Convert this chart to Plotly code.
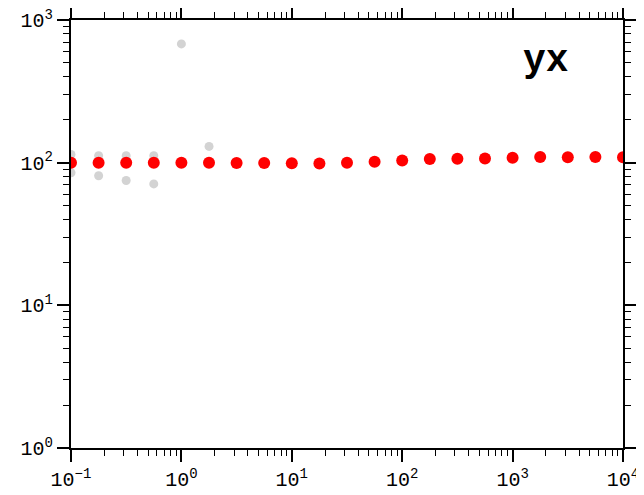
import plotly.graph_objects as go

# Data
red_x = [10 ** (-1 + 0.25 * k) for k in range(21)]
red_y = [100, 100, 100, 100, 100, 100, 99.5, 99.4, 99, 98.5, 100,
         101.5, 103.5, 106, 106.5, 107, 108.3, 109.6, 109, 109.6, 109]

grey_x = [0.1, 0.1, 0.178, 0.178, 0.316, 0.316, 0.562, 0.562, 1.0, 1.78]
grey_y = [114, 85, 112, 81, 112, 75, 112, 71, 680, 130]

x_exponents = [-1, 0, 1, 2, 3, 4]
y_exponents = [0, 1, 2, 3]
label_text = "yx"


def pow_labels(exps):
    return ["10<sup>" + ("\u2212" + str(-e) if e < 0 else str(e)) + "</sup>" for e in exps]


def minor_vals(exps):
    vals = []
    for e in exps[:-1]:
        for m in range(2, 10):
            vals.append(m * 10 ** e)
    return vals


fig = go.Figure()
fig.add_trace(go.Scatter(x=grey_x, y=grey_y, mode="markers",
                         marker=dict(color="#d3d3d3", size=9), showlegend=False))
fig.add_trace(go.Scatter(x=red_x, y=red_y, mode="markers",
                         marker=dict(color="#ff0000", size=12), showlegend=False))

axis_common = dict(
    type="log", showgrid=False, zeroline=False, automargin=False,
    showline=True, linecolor="black", linewidth=2, mirror="ticks",
    ticks="outside", ticklen=12, tickwidth=2, tickcolor="black",
    tickmode="array", ticklabeloverflow="allow",
    tickfont=dict(family="Liberation Mono", size=20, color="black"),
)

fig.update_xaxes(range=[-1, 4], tickvals=[10 ** e for e in x_exponents],
                 ticktext=pow_labels(x_exponents),
                 minor=dict(tickmode="array", tickvals=minor_vals(x_exponents), ticks="outside",
                            ticklen=6, tickwidth=1, tickcolor="black", showgrid=False),
                 **axis_common)
fig.update_yaxes(range=[0, 3], tickvals=[10 ** e for e in y_exponents],
                 ticktext=pow_labels(y_exponents),
                 minor=dict(tickmode="array", tickvals=minor_vals(y_exponents), ticks="outside",
                            ticklen=6, tickwidth=1, tickcolor="black", showgrid=False),
                 **axis_common)

fig.add_annotation(x=0.86, y=0.905, xref="paper", yref="paper", text="<b>" + label_text + "</b>",
                   showarrow=False, font=dict(family="Liberation Mono", size=38, color="black"),
                   xanchor="center", yanchor="middle")

# page body has an 8px margin, so the figure is sized/offset to land in the same place
fig.update_layout(width=636, height=487, margin=dict(l=63, r=21, t=12, b=47),
                  plot_bgcolor="white", paper_bgcolor="white")

fig.write_html("out.html")
